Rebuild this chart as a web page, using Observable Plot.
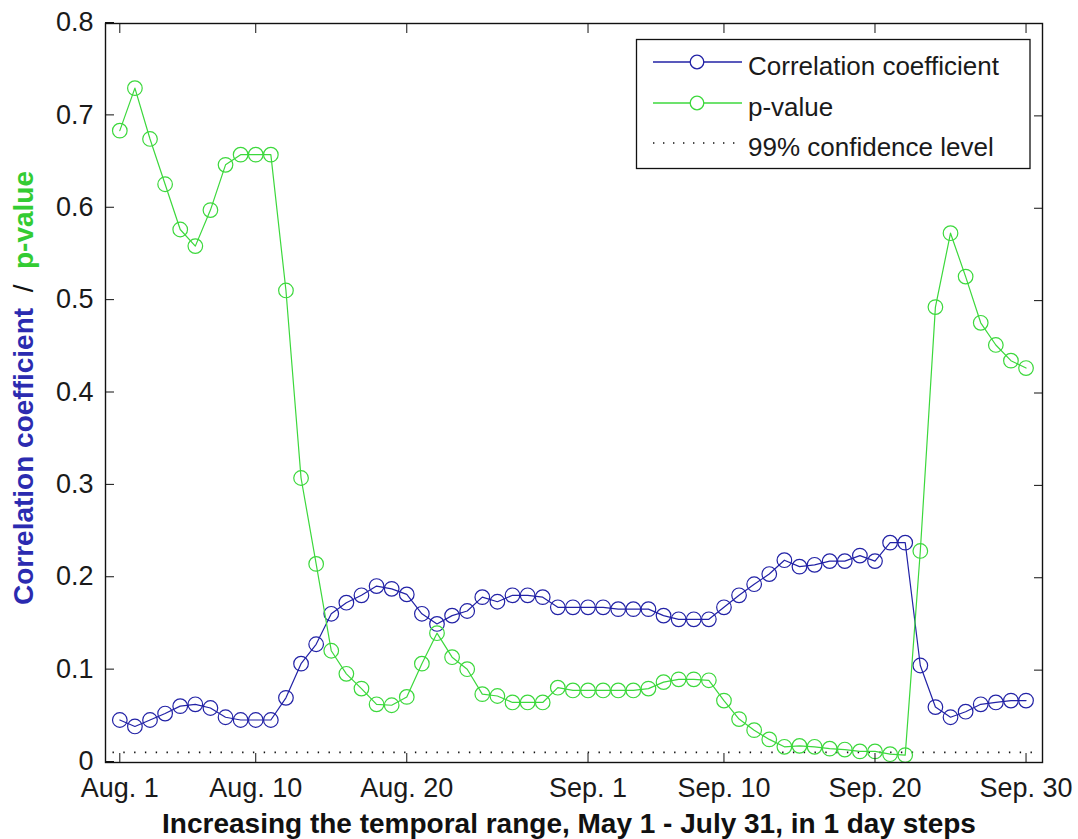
<!DOCTYPE html>
<html>
<head>
<meta charset="utf-8">
<script src="https://cdn.jsdelivr.net/npm/d3@7"></script>
<script src="https://cdn.jsdelivr.net/npm/@observablehq/plot@0.6"></script>
<style>
  html, body { margin: 0; padding: 0; background: #fff; }
  #chart { width: 1078px; height: 839px; }
</style>
</head>
<body>
<div id="chart"></div>
<script>
// ---- Data ----
// Day index 0 = Aug. 1 ... 60 = Sep. 30
const dayIndex = d3.range(61);

const correlation = [
  0.046, 0.039, 0.046, 0.053, 0.061, 0.063, 0.059, 0.049, 0.046, 0.046,
  0.046, 0.070, 0.107, 0.128, 0.161, 0.173, 0.181, 0.191, 0.188, 0.182,
  0.161, 0.150, 0.159, 0.164, 0.179, 0.174, 0.181, 0.181, 0.179, 0.168,
  0.168, 0.168, 0.168, 0.166, 0.166, 0.166, 0.159, 0.155, 0.155, 0.155,
  0.168, 0.181, 0.193, 0.204, 0.219, 0.212, 0.214, 0.218, 0.218, 0.224,
  0.218, 0.238, 0.238, 0.105, 0.060, 0.049, 0.055, 0.063, 0.065, 0.067,
  0.067
];

const pValue = [
  0.684, 0.730, 0.675, 0.626, 0.577, 0.559, 0.598, 0.647, 0.658, 0.658,
  0.658, 0.511, 0.308, 0.215, 0.121, 0.096, 0.080, 0.063, 0.062, 0.071,
  0.107, 0.140, 0.114, 0.101, 0.074, 0.072, 0.065, 0.065, 0.065, 0.081,
  0.078, 0.078, 0.078, 0.078, 0.078, 0.080, 0.087, 0.090, 0.090, 0.089,
  0.067, 0.047, 0.035, 0.025, 0.017, 0.018, 0.017, 0.015, 0.014, 0.012,
  0.012, 0.009, 0.008, 0.229, 0.493, 0.573, 0.526, 0.476, 0.452, 0.435,
  0.427
];

const confidenceLevel = 0.011;

const xTickDays = [0, 9, 19, 31, 40, 50, 60];
const xTickLabels = ["Aug. 1", "Aug. 10", "Aug. 20", "Sep. 1", "Sep. 10", "Sep. 20", "Sep. 30"];
const yTicks = [0, 0.1, 0.2, 0.3, 0.4, 0.5, 0.6, 0.7, 0.8];

const seriesNames = ["Correlation coefficient", "p-value", "99% confidence level"];
const xTitle = "Increasing the temporal range, May 1 - July 31, in 1 day steps";

// ---- Styling ----
const BLUE = "#2222a6";
const GREEN = "#3cd83c";
const FONT = "'Liberation Sans', Arial, sans-serif";

const corrData = dayIndex.map((d, i) => ({day: d, value: correlation[i]}));
const pData = dayIndex.map((d, i) => ({day: d, value: pValue[i]}));
const labelOf = new Map(xTickDays.map((d, i) => [d, xTickLabels[i]]));

const chart = Plot.plot({
  width: 1078,
  height: 839,
  marginLeft: 105,
  marginRight: 36,
  marginTop: 23,
  marginBottom: 77,
  style: {fontFamily: FONT, fontSize: "27px", color: "#1a1a1a", background: "#fff", overflow: "visible"},
  x: {domain: [-0.947, 61.09]},
  y: {domain: [0, 0.8]},
  marks: [
    Plot.ruleY([confidenceLevel], {
      x1: d3.min(dayIndex) - 0.45, x2: d3.max(dayIndex) + 0.5,
      stroke: "#111", strokeWidth: 1.6, strokeDasharray: "1.4 9.4"
    }),
    Plot.line(corrData, {x: "day", y: "value", stroke: BLUE, strokeWidth: 1.2}),
    Plot.dot(corrData, {x: "day", y: "value", r: 7.3, stroke: BLUE, strokeWidth: 1.2, fill: "none"}),
    Plot.line(pData, {x: "day", y: "value", stroke: GREEN, strokeWidth: 1.2}),
    Plot.dot(pData, {x: "day", y: "value", r: 7.3, stroke: GREEN, strokeWidth: 1.2, fill: "none"}),
    Plot.frame({stroke: "#111", strokeWidth: 1.4}),
    Plot.axisY({ticks: yTicks, anchor: "left", tickSize: -9, tickPadding: 21, label: null,
      tickFormat: d => String(d), fontSize: 27, stroke: "#111", dy: -1}),
    Plot.axisY({ticks: yTicks, anchor: "right", tickSize: -9, fill: "none", label: null, stroke: "#111"}),
    Plot.axisX({ticks: xTickDays, anchor: "bottom", tickSize: -9, tickPadding: 24, label: null,
      tickFormat: d => labelOf.get(d), fontSize: 27, stroke: "#111"}),
    Plot.axisX({ticks: xTickDays, anchor: "top", tickSize: -9, fill: "none", label: null, stroke: "#111"})
  ]
});

document.getElementById("chart").appendChild(chart);

// ---- Axis titles and legend ----
const svg = d3.select(chart);

svg.append("text")
  .attr("x", 569).attr("y", 833)
  .attr("text-anchor", "middle")
  .attr("font-family", FONT).attr("font-weight", "bold").attr("font-size", 28)
  .attr("fill", "#111")
  .text(xTitle);

const yl = svg.append("text")
  .attr("transform", "translate(33,388) rotate(-90)")
  .attr("text-anchor", "middle")
  .attr("font-family", FONT).attr("font-weight", "bold").attr("font-size", 28);
yl.append("tspan").attr("fill", "#2b2bb0").text(seriesNames[0]);
yl.append("tspan").attr("fill", "#111").attr("font-weight", "normal").text("  /  ");
yl.append("tspan").attr("fill", "#33cc33").text(seriesNames[1]);

const lg = svg.append("g").attr("font-family", FONT).attr("font-size", 26).attr("text-anchor", "start");
lg.append("rect").attr("x", 636.5).attr("y", 39.5).attr("width", 393.5).attr("height", 129)
  .attr("fill", "#fff").attr("stroke", "#111").attr("stroke-width", 1.3);
const rows = [
  {y: 62, name: seriesNames[0], color: BLUE, marker: true, dash: null},
  {y: 103, name: seriesNames[1], color: GREEN, marker: true, dash: null},
  {y: 143, name: seriesNames[2], color: "#111", marker: false, dash: "1.4 8.6"}
];
rows.forEach(r => {
  lg.append("line").attr("x1", 653).attr("x2", 742).attr("y1", r.y).attr("y2", r.y)
    .attr("stroke", r.color).attr("stroke-width", r.dash ? 1.6 : 1.3)
    .attr("stroke-dasharray", r.dash);
  if (r.marker) {
    lg.append("circle").attr("cx", 697).attr("cy", r.y).attr("r", 6.8)
      .attr("fill", "#fff").attr("stroke", r.color).attr("stroke-width", 1.3);
  }
  lg.append("text").attr("x", 748).attr("y", r.y + 12.5).attr("fill", "#1a1a1a")
    .attr("text-anchor", "start").text(r.name);
});
</script>
</body>
</html>
